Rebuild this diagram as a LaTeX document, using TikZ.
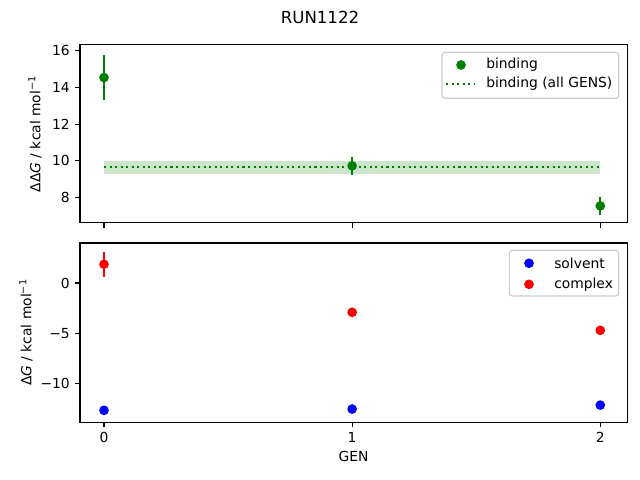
\documentclass[tikz,border=0pt]{standalone}
\usepackage{fontspec}
\setmainfont{DejaVu Sans}[ItalicFont={DejaVu Sans Oblique}]
\usetikzlibrary{positioning}

\definecolor{mplgreen}{RGB}{0,128,0}
\definecolor{mplblue}{RGB}{0,0,255}
\definecolor{mplred}{RGB}{255,0,0}
\definecolor{legendedge}{gray}{0.8}

\tikzset{
  axisline/.style={line width=0.8pt, black},
  tickmark/.style={line width=0.8pt, black},
  ylab/.style={inner sep=0pt, left=3.5pt, font=\fontsize{10}{12}\selectfont},
  xlab/.style={inner sep=0pt, below=3.5pt, font=\fontsize{10}{12}\selectfont},
  errbar/.style={line width=1.5pt},
  legendbox/.style={draw=legendedge, line width=0.8pt, fill=white, fill opacity=0.8, rounded corners=2pt},
  legendtext/.style={inner sep=0pt, anchor=west, font=\fontsize{10}{12}\selectfont},
}

\begin{document}
\begin{tikzpicture}[x=0.01in, y=0.01in]
            \useasboundingbox (0,0) rectangle (640,480);
            \node (title) at (320,463) {\fontsize{12}{14}\selectfont RUN1122};

            % top panel: binding
            \begin{scope}[shift={(104,136.2)}, x=2.48in, y=0.183in]
            \fill[mplgreen, opacity=0.2] (0,9.30) rectangle (2,9.98);
            \draw[mplgreen, line width=1.5pt, dash pattern=on 1.5pt off 2.5pt] (0,9.64) -- (2,9.64);
            \draw[mplgreen, errbar] (0,13.29) -- (0,15.79);
            \draw[mplgreen, errbar] (1,9.22) -- (1,10.22);
            \draw[mplgreen, errbar] (2,7.03) -- (2,8.03);
            \fill[mplgreen] (0,14.54) circle (3.5pt);
            \fill[mplgreen] (1,9.72) circle (3.5pt);
            \fill[mplgreen] (2,7.53) circle (3.5pt);
            \draw[axisline] (-0.0968,6.60) rectangle (2.1089,16.33);
            \draw[tickmark] (-0.0968,8) -- ++(-3.5pt,0) node[ylab] (ta8) {8};
            \draw[tickmark] (-0.0968,10) -- ++(-3.5pt,0) node[ylab] (ta10) {10};
            \draw[tickmark] (-0.0968,12) -- ++(-3.5pt,0) node[ylab] (ta12) {12};
            \draw[tickmark] (-0.0968,14) -- ++(-3.5pt,0) node[ylab] (ta14) {14};
            \draw[tickmark] (-0.0968,16) -- ++(-3.5pt,0) node[ylab] (ta16) {16};
            \draw[tickmark] (0,6.60) -- ++(0,-3.5pt);
            \draw[tickmark] (1,6.60) -- ++(0,-3.5pt);
            \draw[tickmark] (2,6.60) -- ++(0,-3.5pt);
            \end{scope}
            \node[rotate=90, font=\fontsize{10}{12}\selectfont] (ddglabel) at (35,346) {ΔΔ\textit{G} / kcal mol\textsuperscript{−1}};

            % legend of top panel
            \draw[legendbox] (442,381.7) rectangle (618.7,427.7);
            \fill[mplgreen] (461,415) circle (3.5pt);
            \node[legendtext] (legbind) at (486,415) {binding};
            \draw[mplgreen, line width=1.5pt, dash pattern=on 1.5pt off 2.5pt] (446,396) -- (474,396);
            \node[legendtext] (legall) at (486,396) {binding (all GENS)};

            % bottom panel: solvent and complex
            \begin{scope}[shift={(104,197)}, x=2.48in, y=0.1007in]
            \draw[mplred, errbar] (0,0.60) -- (0,3.12);
            \draw[mplred, errbar] (1,-3.15) -- (1,-2.67);
            \fill[mplred] (0,1.86) circle (3.5pt);
            \fill[mplred] (1,-2.91) circle (3.5pt);
            \fill[mplred] (2,-4.70) circle (3.5pt);
            \fill[mplblue] (0,-12.64) circle (3.5pt);
            \fill[mplblue] (1,-12.51) circle (3.5pt);
            \fill[mplblue] (2,-12.12) circle (3.5pt);
            \draw[axisline] (-0.0968,-13.83) rectangle (2.1089,3.97);
            \draw[tickmark] (-0.0968,-10) -- ++(-3.5pt,0) node[ylab] (tbm10) {−10};
            \draw[tickmark] (-0.0968,-5) -- ++(-3.5pt,0) node[ylab] (tbm5) {−5};
            \draw[tickmark] (-0.0968,0) -- ++(-3.5pt,0) node[ylab] (tb0) {0};
            \draw[tickmark] (0,-13.83) -- ++(0,-3.5pt) node[xlab] (gen0) {0};
            \draw[tickmark] (1,-13.83) -- ++(0,-3.5pt) node[xlab] (gen1) {1};
            \draw[tickmark] (2,-13.83) -- ++(0,-3.5pt) node[xlab] (gen2) {2};
            \end{scope}
            \node[rotate=90, font=\fontsize{10}{12}\selectfont] (dglabel) at (26,147.5) {Δ\textit{G} / kcal mol\textsuperscript{−1}};
            \node[font=\fontsize{10}{12}\selectfont] (genlabel) at (353.5,24) {GEN};

            % legend of bottom panel
            \draw[legendbox] (509.3,184) rectangle (618.7,229.7);
            \fill[mplblue] (529,216.7) circle (3.5pt);
            \node[legendtext] (legsolv) at (554,216.7) {solvent};
            \fill[mplred] (529,195.7) circle (3.5pt);
            \node[legendtext] (legcomp) at (554,195.7) {complex};
        \end{tikzpicture}
\end{document}
